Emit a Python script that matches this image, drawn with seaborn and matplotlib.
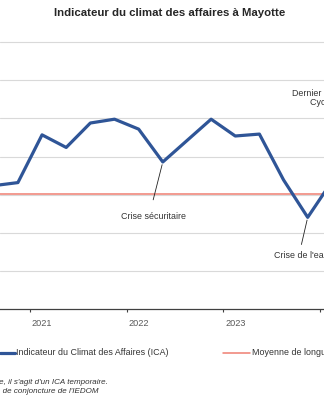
import numpy as np
import pandas as pd
import matplotlib
matplotlib.use("Agg")
import matplotlib.pyplot as plt
from matplotlib.lines import Line2D
import seaborn as sns

# ---- data (quarterly ICA) ----
quarters = ["T3 2020", "T4 2020", "T1 2021", "T2 2021", "T3 2021", "T4 2021",
            "T1 2022", "T2 2022", "T3 2022", "T4 2022", "T1 2023", "T2 2023",
            "T3 2023", "T4 2023", "T1 2024"]
ica_values = [102.4, 103.2, 115.7, 112.4, 118.8, 119.8,
              117.2, 108.6, 114.2, 119.8, 115.4, 115.9,
              103.9, 94.1, 103.5]
long_term_mean = 100.1
year_labels = ["2021", "2022", "2023"]
grid_values = [80, 90, 100, 110, 120, 130, 140]

sns.set_theme(style="white")
plt.rcParams["font.family"] = ["Liberation Sans", "DejaVu Sans"]

W, H = 324, 400
fig = plt.figure(figsize=(W / 100, H / 100), dpi=100)

def fx(px):
    return px / W

def fy(py):
    return 1 - py / H

ax_bottom_px, ax_top_px = 309.4, 34.4
ax = fig.add_axes([0, fy(ax_bottom_px), 1, (ax_bottom_px - ax_top_px) / H])

idx = np.arange(len(quarters)) - 1  # T4 2020 -> 0
df = pd.DataFrame({"i": idx, "ica": ica_values, "quarter": quarters})

sns.lineplot(data=df, x="i", y="ica", ax=ax, color="#2F5597", linewidth=2.3,
             clip_on=True, zorder=4)
ax.axhline(long_term_mean, color="#EF7F72", linewidth=1.1, zorder=3)

x0 = -17.9 / 24.15
x1 = (324 - 17.9) / 24.15
ax.set_xlim(x0, x1)
ax.set_ylim(70, 142)

ax.set_yticks(grid_values)
ax.set_yticklabels([])
ax.tick_params(axis="y", length=0)
ax.grid(axis="y", color="#D9D9D9", linewidth=0.8, zorder=0)
ax.set_axisbelow(True)

# year boundary ticks and labels at first quarter
ax.set_xticks([0.5, 4.5, 8.5, 12.5])
ax.set_xticklabels([])
ax.tick_params(axis="x", which="major", length=2.2, width=0.8, color="#404040",
               direction="out", bottom=True)
ax.set_xticks([1, 5, 9], labels=year_labels, minor=True)
ax.tick_params(axis="x", which="minor", length=0, pad=7, labelsize=6.6,
               labelcolor="#595959")

for s in ["left", "right", "top"]:
    ax.spines[s].set_visible(False)
ax.spines["bottom"].set_color("#404040")
ax.spines["bottom"].set_linewidth(0.9)
ax.set_xlabel("")
ax.set_ylabel("")

def px2data(px, py):
    return ((px - 17.9) / 24.15, 100 + (194.8 - py) / 3.82)

FS = 6.4

# annotations
ax.annotate("", xy=(6, ica_values[7]), xytext=px2data(152.5, 202.5),
            arrowprops=dict(arrowstyle="-", color="#222222", lw=0.6))
tx, ty = px2data(153.5, 216)
ax.text(tx, ty, "Crise sécuritaire", ha="center", va="center", fontsize=FS,
        color="#333333")

ax.annotate("", xy=(12, ica_values[13]), xytext=px2data(300.8, 247.2),
            arrowprops=dict(arrowstyle="-", color="#222222", lw=0.6))
tx, ty = px2data(274, 255.5)
ax.text(tx, ty, "Crise de l'eau", ha="left", va="center", fontsize=FS,
        color="#333333", clip_on=False)

fig.text(fx(292), fy(93.5), "Dernier point :", ha="left", va="center",
         fontsize=FS, color="#333333")
fig.text(fx(310), fy(102.5), "Cyclone Chido", ha="left", va="center",
         fontsize=FS, color="#333333")

# title
fig.text(fx(170), fy(12.5), "Indicateur du climat des affaires à Mayotte",
         ha="center", va="center", fontsize=8.2, fontweight="bold",
         color="#262626")

# legend (manual)
fig.add_artist(Line2D([fx(0), fx(15)], [fy(352.7), fy(352.7)],
                      color="#2F5597", linewidth=2.3, transform=fig.transFigure))
fig.text(fx(16), fy(352.7), "Indicateur du Climat des Affaires (ICA)",
         ha="left", va="center", fontsize=FS, color="#333333")
fig.add_artist(Line2D([fx(223), fx(250)], [fy(352.7), fy(352.7)],
                      color="#EF7F72", linewidth=1.1, transform=fig.transFigure))
fig.text(fx(252), fy(352.7), "Moyenne de longue période",
         ha="left", va="center", fontsize=FS, color="#333333")

# notes
fig.text(fx(108), fy(382.7), "Note : pour la dernière enquête, il s'agit d'un ICA temporaire.",
         ha="right", va="center", fontsize=5.75, style="italic", color="#333333")
fig.text(fx(98), fy(391.5), "Source : Enquête de conjoncture de l'IEDOM",
         ha="right", va="center", fontsize=5.75, style="italic", color="#333333")

fig.savefig("out.png", dpi=100)
